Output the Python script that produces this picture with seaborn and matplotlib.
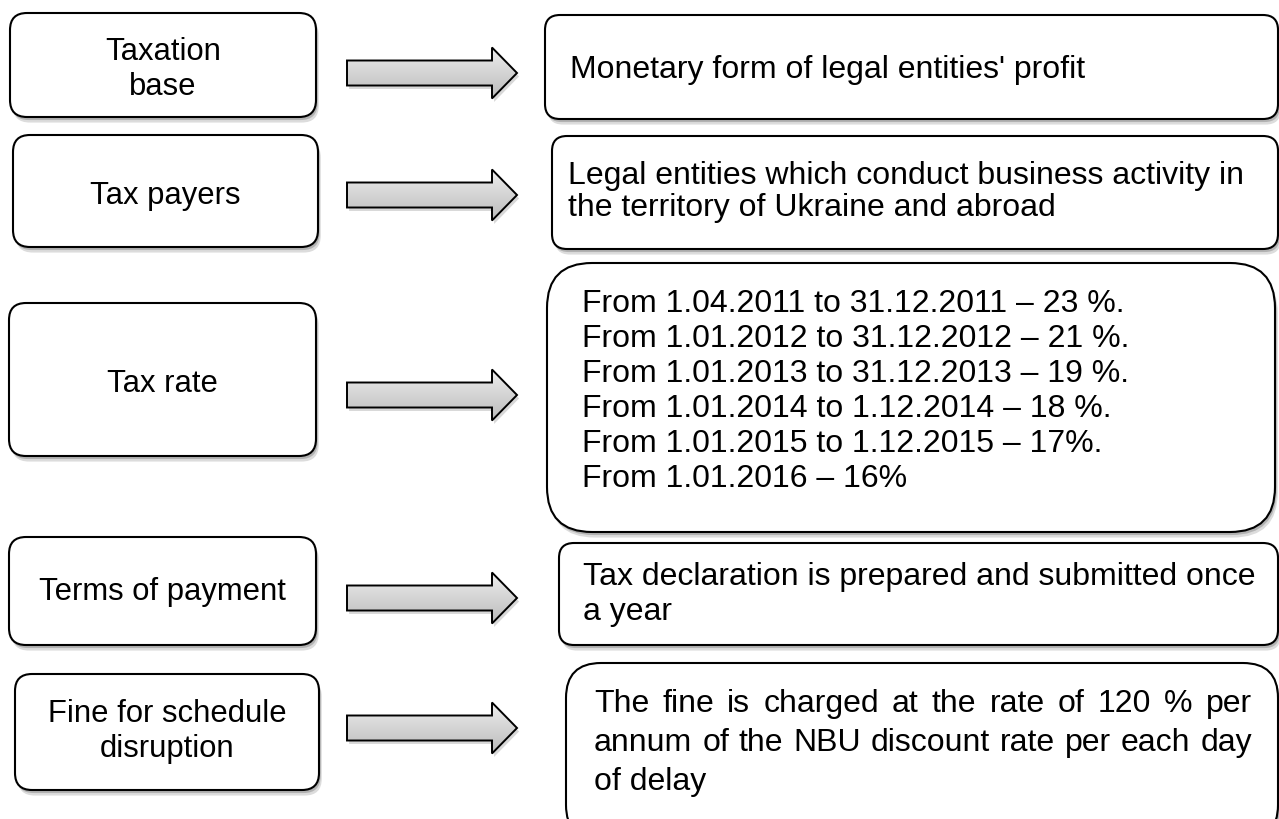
import matplotlib
matplotlib.use("Agg")
import matplotlib.pyplot as plt
import matplotlib.patheffects as pe
from matplotlib.colors import LinearSegmentedColormap
from matplotlib.patches import FancyBboxPatch, Polygon
import numpy as np
import seaborn as sns

# ---- content ----
left_labels = [["Taxation", "base"], ["Tax payers"], ["Tax rate"],
               ["Terms of payment"], ["Fine for schedule", "disruption"]]
taxation_base = ["Monetary form of legal entities' profit"]
tax_payers = ["Legal entities which conduct business activity in",
              "the territory of Ukraine and abroad"]
rate_periods = ["From 1.04.2011 to 31.12.2011", "From 1.01.2012 to 31.12.2012",
                "From 1.01.2013 to 31.12.2013", "From 1.01.2014 to 1.12.2014",
                "From 1.01.2015 to 1.12.2015", "From 1.01.2016"]
rate_values = ["23 %.", "21 %.", "19 %.", "18 %.", "17%.", "16%"]
payment_terms = ["Tax declaration is prepared and submitted once", "a year"]
fine_text = ["The fine is charged at the rate of 120 % per",
             "annum of the NBU discount rate per each day", "of delay"]

# ---- layout (pixels, y downwards) ----
left_boxes = [(10, 13, 316, 117), (13, 135, 318, 247), (9, 303, 316, 456),
              (9, 537, 316, 645), (15, 674, 319, 790)]
left_baselines = [[60, 95], [204], [392], [600], [722, 757]]
right_boxes = [(545, 15, 1278, 119, 15), (552, 136, 1278, 249, 15),
               (547, 263, 1275, 532, 45), (559, 543, 1278, 645, 15),
               (566, 663, 1278, 840, 35)]
arrow_y = [73, 195, 395, 598, 728]

sns.set_theme(style="white")
plt.rcParams["font.family"] = ["Liberation Sans", "DejaVu Sans"]
FS_L, FS_R = 22.3, 23

arrow_cmap = LinearSegmentedColormap.from_list("arrow", ["#ededed", "#bcbcbc"])

fig = plt.figure(figsize=(12.79, 8.19), dpi=100)
ax = fig.add_axes([0, 0, 1, 1])
ax.set_xlim(0, 1279)
ax.set_ylim(819, 0)
ax.axis("off")

shadow = [pe.SimplePatchShadow(offset=(2, -4), shadow_rgbFace="0.55", alpha=0.3),
          pe.SimplePatchShadow(offset=(1.2, -2.2), shadow_rgbFace="0.4", alpha=0.35),
          pe.Normal()]


def rounded_box(x0, y0, x1, y1, r):
    box = FancyBboxPatch((x0 + r, y0 + r), x1 - x0 - 2 * r, y1 - y0 - 2 * r,
                         boxstyle=f"round,pad={r},rounding_size={r}",
                         facecolor="white", edgecolor="black", linewidth=1.5,
                         zorder=2)
    box.set_path_effects(shadow)
    ax.add_patch(box)


def arrow(yc, x0=347, x1=517, head=25, shaft=12.5, half=25.5):
    xb = x1 - head
    pts = [(x0, yc - shaft), (xb, yc - shaft), (xb, yc - half), (x1, yc),
           (xb, yc + half), (xb, yc + shaft), (x0, yc + shaft)]
    shp = Polygon(pts, closed=True, facecolor="0.6", edgecolor="none", alpha=0.25,
                  zorder=1)
    shp.set_path_effects([pe.SimplePatchShadow(offset=(1.5, -2.5),
                                               shadow_rgbFace="0.5", alpha=0.3)])
    ax.add_patch(shp)
    grad = np.linspace(0, 1, 64).reshape(-1, 1)
    im = ax.imshow(grad, extent=[x0, x1, yc + half, yc - half], cmap=arrow_cmap,
                   aspect="auto", zorder=2, interpolation="bilinear")
    poly = Polygon(pts, closed=True, facecolor="none", edgecolor="black",
                   linewidth=1.4, zorder=3)
    ax.add_patch(poly)
    im.set_clip_path(poly)


for (x0, y0, x1, y1), lines, bases in zip(left_boxes, left_labels, left_baselines):
    rounded_box(x0, y0, x1, y1, 17)
    for txt, b in zip(lines, bases):
        ax.text((x0 + x1) / 2, b, txt, ha="center", va="baseline",
                fontsize=FS_L, color="black", zorder=4)

for (x0, y0, x1, y1, r) in right_boxes:
    rounded_box(x0, y0, x1, y1, r)

for y in arrow_y:
    arrow(y)

kw = dict(ha="left", va="baseline", fontsize=FS_R, color="black", zorder=4)
ax.text(570, 78, taxation_base[0], **kw)
for i, t in enumerate(tax_payers):
    ax.text(568, 184 + 32 * i, t, **kw)
for i, (p, v) in enumerate(zip(rate_periods, rate_values)):
    ax.text(582, 312 + 35 * i, f"{p} \u2013 {v}", **kw)
for i, t in enumerate(payment_terms):
    ax.text(583, 585 + 35 * i, t, **kw)


def justified(words, xl, xr, y):
    texts = [ax.text(0, y, w, **kw) for w in words]
    fig.canvas.draw()
    widths = [t.get_window_extent().width for t in texts]
    gap = (xr - xl - sum(widths)) / (len(words) - 1)
    x = xl
    for t, w in zip(texts, widths):
        t.set_x(x)
        x += w + gap


justified(fine_text[0].split(), 594, 1252, 712)
justified(fine_text[1].split(), 594, 1252, 751)
ax.text(594, 790, fine_text[2], **kw)

fig.savefig("out.png", dpi=100)
